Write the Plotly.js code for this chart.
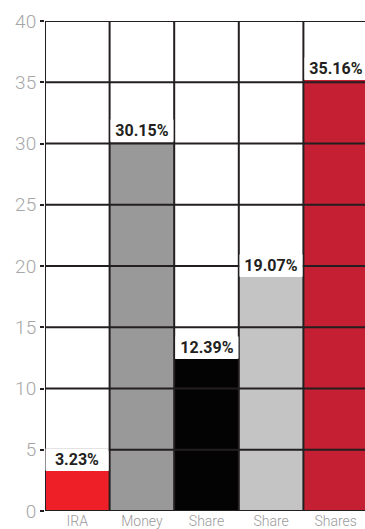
<!DOCTYPE html>
<html>
<head>
<meta charset="utf-8">
<script src="https://cdn.plot.ly/plotly-3.0.1.min.js"></script>
<style>
  html, body { margin: 0; padding: 0; background: #fff; overflow: hidden; }
  #chart { width: 368px; height: 529px; }
</style>
</head>
<body>
<div id="chart"></div>
<script>
// ---- data ----
const categories = ['IRA', 'Money', 'Share', 'Share', 'Shares'];
const values = [3.23, 30.15, 12.39, 19.07, 35.16];
const yTickValues = [0, 5, 10, 15, 20, 25, 30, 35, 40];
const yTickLabels = ['0', '5', '10', '15', '20', '25', '30', '35', '40'];

// ---- styles ----
const barColors = ['#ee1f26', '#999999', '#030303', '#c4c4c4', '#c41f33'];
const lineColor = '#231f20';

const positions = categories.map((_, i) => i);

const trace = {
  type: 'bar',
  x: positions,
  y: values,
  width: 1,
  marker: { color: barColors, line: { width: 0 } },
  hoverinfo: 'skip'
};

// grid lines drawn above the bars, built from the axis ticks / category boundaries
const shapes = [];
yTickValues.forEach(v => {
  shapes.push({
    type: 'line', layer: 'above',
    xref: 'paper', x0: 0, x1: 1,
    yref: 'y', y0: v, y1: v,
    line: { color: lineColor, width: 2 }
  });
});
for (let i = 0; i <= categories.length; i++) {
  shapes.push({
    type: 'line', layer: 'above',
    xref: 'x', x0: i - 0.5, x1: i - 0.5,
    yref: 'paper', y0: 0, y1: 1,
    line: { color: lineColor, width: 2 }
  });
}

const annotations = values.map((v, i) => ({
  x: positions[i], y: v,
  xref: 'x', yref: 'y',
  yanchor: 'bottom', xanchor: 'center',
  text: v.toFixed(2) + '%',
  showarrow: false,
  bgcolor: '#ffffff',
  width: 60,
  borderpad: 1,
  font: { family: 'Roboto, sans-serif', size: 16, weight: 700, color: '#231f20' }
}));

const layout = {
  width: 368,
  height: 529,
  margin: { l: 45, r: 0, t: 21, b: 18 },
  paper_bgcolor: '#ffffff',
  plot_bgcolor: '#ffffff',
  showlegend: false,
  bargap: 0,
  xaxis: {
    range: [-0.5, categories.length - 0.5],
    tickmode: 'array',
    tickvals: positions,
    ticktext: categories,
    showgrid: false,
    zeroline: false,
    showline: false,
    ticks: '',
    ticklen: 0,
    tickfont: { family: 'Roboto, sans-serif', size: 14, weight: 300, color: '#9a9a9a' },
    fixedrange: true
  },
  yaxis: {
    range: [0, 40],
    tickmode: 'array',
    tickvals: yTickValues,
    ticktext: yTickLabels,
    showgrid: false,
    zeroline: false,
    showline: false,
    ticks: 'outside',
    ticklen: 4,
    tickwidth: 2,
    tickcolor: lineColor,
    tickfont: { family: 'Roboto, sans-serif', size: 19, weight: 300, color: '#a6a6a6' },
    fixedrange: true
  },
  shapes: shapes,
  annotations: annotations
};

Plotly.newPlot('chart', [trace], layout, { displayModeBar: false, staticPlot: true });
</script>
</body>
</html>
